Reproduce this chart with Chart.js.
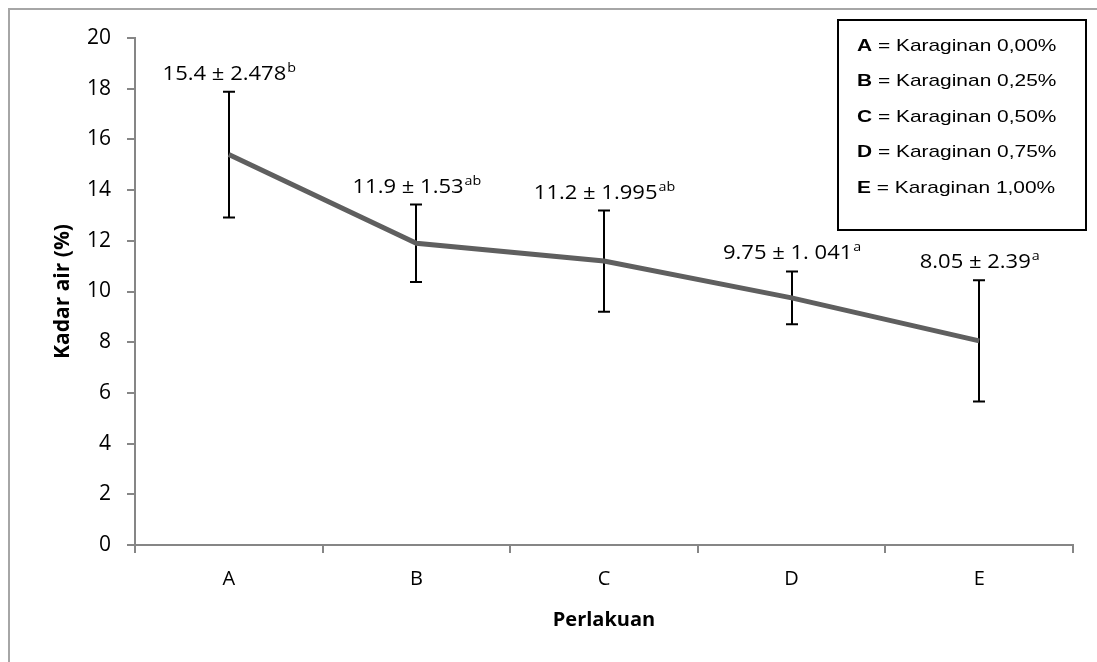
<!DOCTYPE html>
<html lang="id">
<head>
    <meta charset="UTF-8" />
    <script src="https://cdn.jsdelivr.net/npm/chart.js@4.4.0/dist/chart.umd.min.js"></script>
    <title>Kadar air</title>
    <style>
        html, body { margin: 0; padding: 0; background: #fff; }
        #wrap { width: 1097px; height: 662px; }
    </style>
</head>
<body>
    <div id="wrap"><canvas id="chart" width="1097" height="662"></canvas></div>
    <script>
        // data
        var perlakuan = ["A", "B", "C", "D", "E"];
        var kadarAir = [15.4, 11.9, 11.2, 9.75, 8.05];
        var sd = [2.478, 1.53, 1.995, 1.041, 2.39];
        var labelText = ["15.4 \u00b1 2.478", "11.9 \u00b1 1.53", "11.2 \u00b1 1.995", "9.75 \u00b1 1. 041", "8.05 \u00b1 2.39"];
        var notasi = ["b", "ab", "ab", "a", "a"];
        var legendLines = [
            ["A", " = Karaginan 0,00%"],
            ["B", " = Karaginan 0,25%"],
            ["C", " = Karaginan 0,50%"],
            ["D", " = Karaginan 0,75%"],
            ["E", " = Karaginan 1,00%"]
        ];

        var axisGray = "#868686";
        var mainFont = "'Open Sans', Lato, sans-serif";
        var legendFont = "'Liberation Sans', Arial, sans-serif";

        // the source picture is a bit wider than tall, so text is stretched sideways
        function stretchedText(ctx, text, x, y, sx) {
            ctx.save();
            ctx.translate(x, y);
            ctx.scale(sx, 1);
            ctx.fillText(text, 0, 0);
            ctx.restore();
        }

        var decorPlugin = {
            id: "decor",
            beforeDraw: function(chart) {
                var ctx = chart.ctx;
                ctx.save();
                ctx.fillStyle = "#fff";
                ctx.fillRect(0, 0, chart.width, chart.height);
                ctx.strokeStyle = "#a6a6a6";
                ctx.lineWidth = 2;
                ctx.strokeRect(9, 9, 1300, 900);
                ctx.restore();
            },
            beforeDatasetsDraw: function(chart) {
                // error bars
                var ctx = chart.ctx;
                var xs = chart.scales.x, ys = chart.scales.y;
                ctx.save();
                ctx.strokeStyle = "#000";
                ctx.lineWidth = 2;
                for (var i = 0; i < kadarAir.length; i++) {
                    var x = Math.round(xs.getPixelForValue(i));
                    var yTop = ys.getPixelForValue(kadarAir[i] + sd[i]);
                    var yBot = ys.getPixelForValue(kadarAir[i] - sd[i]);
                    ctx.beginPath();
                    ctx.moveTo(x, yTop);
                    ctx.lineTo(x, yBot);
                    ctx.moveTo(x - 6, yTop);
                    ctx.lineTo(x + 6, yTop);
                    ctx.moveTo(x - 6, yBot);
                    ctx.lineTo(x + 6, yBot);
                    ctx.stroke();
                }
                ctx.restore();
            },
            afterDatasetsDraw: function(chart) {
                var ctx = chart.ctx;
                var xs = chart.scales.x, ys = chart.scales.y;
                var sx = 1.1;
                ctx.save();
                ctx.fillStyle = "#000";
                ctx.textBaseline = "alphabetic";
                ctx.textAlign = "left";
                for (var i = 0; i < kadarAir.length; i++) {
                    var x = xs.getPixelForValue(i);
                    var y = ys.getPixelForValue(kadarAir[i] + sd[i]) - 12;
                    ctx.font = "20px " + mainFont;
                    var w1 = ctx.measureText(labelText[i]).width * sx;
                    ctx.font = "13px " + mainFont;
                    var w2 = ctx.measureText(notasi[i]).width * sx;
                    var x0 = x - (w1 + w2) / 2;
                    ctx.font = "20px " + mainFont;
                    stretchedText(ctx, labelText[i], x0, y, sx);
                    ctx.font = "13px " + mainFont;
                    stretchedText(ctx, notasi[i], x0 + w1 + 1, y - 8, sx);
                }

                // legend box
                ctx.strokeStyle = "#000";
                ctx.lineWidth = 2;
                ctx.strokeRect(838, 20, 248, 210);
                ctx.textBaseline = "middle";
                var lx = 1.23;
                for (var j = 0; j < legendLines.length; j++) {
                    var ly = 46 + j * 35.5;
                    ctx.font = "bold 17px " + legendFont;
                    stretchedText(ctx, legendLines[j][0], 857, ly, lx);
                    var bw = ctx.measureText(legendLines[j][0]).width * lx;
                    ctx.font = "17px " + legendFont;
                    stretchedText(ctx, legendLines[j][1], 857 + bw, ly, lx);
                }
                ctx.restore();
            }
        };

        new Chart(document.getElementById("chart"), {
            type: "line",
            data: {
                labels: perlakuan,
                datasets: [{
                    data: kadarAir,
                    borderColor: "#5f5f5f",
                    borderWidth: 5,
                    pointRadius: 0,
                    tension: 0,
                    fill: false
                }]
            },
            plugins: [decorPlugin],
            options: {
                responsive: false,
                animation: false,
                layout: { padding: { left: 50, right: 24, top: 38, bottom: 30 } },
                plugins: {
                    legend: { display: false },
                    tooltip: { enabled: false }
                },
                scales: {
                    x: {
                        offset: true,
                        afterFit: function(axis) { axis.height = 87; },
                        grid: {
                            offset: true,
                            drawOnChartArea: false,
                            drawTicks: true,
                            tickLength: 8,
                            color: axisGray,
                            lineWidth: 2
                        },
                        border: { display: true, color: axisGray, width: 2 },
                        ticks: {
                            color: "#000",
                            padding: 14,
                            font: { family: mainFont, size: 20 }
                        },
                        title: {
                            display: true,
                            text: "Perlakuan",
                            color: "#000",
                            padding: 0,
                            font: { family: mainFont, size: 20, weight: "bold" }
                        }
                    },
                    y: {
                        min: 0,
                        max: 20,
                        afterFit: function(axis) { axis.width = 85; },
                        grid: {
                            drawOnChartArea: false,
                            drawTicks: true,
                            tickLength: 8,
                            color: axisGray,
                            lineWidth: 2
                        },
                        border: { display: true, color: axisGray, width: 2 },
                        ticks: {
                            stepSize: 2,
                            color: "#000",
                            padding: 16,
                            font: { family: mainFont, size: 21 }
                        },
                        title: {
                            display: true,
                            text: "Kadar air (%)",
                            color: "#000",
                            padding: 0,
                            font: { family: mainFont, size: 21, weight: "bold" }
                        }
                    }
                }
            }
        });
    </script>
</body>
</html>
